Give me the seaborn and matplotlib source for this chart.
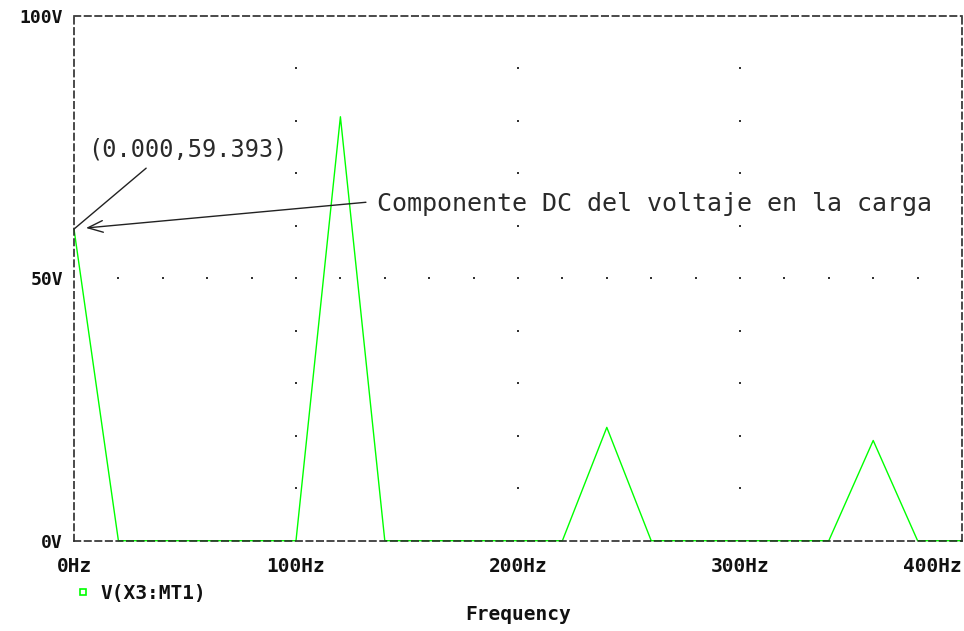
import matplotlib
matplotlib.use("Agg")
import matplotlib.pyplot as plt
from matplotlib.lines import Line2D
import numpy as np
import pandas as pd
import seaborn as sns

# FFT of the load voltage, 20 Hz resolution
freq_hz = [0, 20, 40, 60, 80, 100, 120, 140, 160, 180, 200, 220, 240, 260,
           280, 300, 320, 340, 360, 380, 400]
volts = [59.393, 0, 0, 0, 0, 0, 80.8, 0, 0, 0, 0, 0, 21.6, 0,
         0, 0, 0, 0, 19.1, 0, 0]
x_ticks = [0, 100, 200, 300, 400]
x_tick_labels = ["0Hz", "100Hz", "200Hz", "300Hz", "400Hz"]
y_ticks = [0, 50, 100]
y_tick_labels = ["0V", "50V", "100V"]
trace_name = "V(X3:MT1)"
dc_label = "(0.000,59.393)"
dc_note = "Componente DC del voltaje en la carga"

sns.set_theme(style="white")
plt.rcParams["lines.scale_dashes"] = False
plt.rcParams["font.family"] = ["DejaVu Sans Mono", "DejaVu Sans"]

W, H = 964, 631
fig = plt.figure(figsize=(W / 100, H / 100), dpi=100)
ax = fig.add_axes([74 / W, 1 - 540.7 / H, 888 / W, (540.7 - 16) / H])

df = pd.DataFrame({"Frequency": freq_hz, "Voltage": volts})
sns.lineplot(data=df, x="Frequency", y="Voltage", ax=ax, color="#00ff00",
             linewidth=1.0, clip_on=False, zorder=2)

ax.set_xlim(0, 400)
ax.set_ylim(0, 100)

# dashed frame
for sp in ax.spines.values():
    sp.set_visible(True)
    sp.set_linestyle((0, (4.6, 3.0)))
    sp.set_color("#2b2b2b")
    sp.set_linewidth(1.2)
    sp.set_zorder(3)

# sparse dotted grid
for gx in [100, 200, 300]:
    ys = np.arange(10, 100, 10)
    ax.plot([gx] * len(ys), ys, ls="none", marker="s", ms=1.6,
            color="#333333", mew=0)
gxs = np.arange(20, 400, 20)
ax.plot(gxs, [50] * len(gxs), ls="none", marker="s", ms=1.6,
        color="#333333", mew=0)

x_font = dict(family="DejaVu Sans Mono", weight="bold", size=14)
y_font = dict(family="DejaVu Sans Mono", weight="bold", size=13)
ax.set_xticks(x_ticks)
ax.set_xticklabels(x_tick_labels, fontdict=x_font)
ax.get_xticklabels()[-1].set_horizontalalignment("right")
ax.set_yticks(y_ticks)
ax.set_yticklabels(y_tick_labels, fontdict=y_font)
ax.tick_params(axis="x", direction="out", length=5, width=1.1,
               color="#222222", pad=7, labelcolor="#111111")
ax.tick_params(axis="y", direction="inout", length=10, width=1.1,
               color="#222222", pad=3, labelcolor="#111111")
ax.set_xlabel("")
ax.set_ylabel("")

fig.text(518 / W, 1 - 615 / H, "Frequency", ha="center", va="center",
         family="DejaVu Sans Mono", weight="bold", size=14, color="#111111")

handle = Line2D([], [], ls="none", marker="s", mfc="none", mec="#00ff00",
                mew=1.2, ms=5)
fig.legend([handle], [trace_name], loc="center left",
           bbox_to_anchor=(56 / W, 1 - 593 / H), frameon=False,
           handlelength=1.0, handletextpad=0.4,
           prop=dict(family="DejaVu Sans Mono", weight="bold", size=14),
           labelcolor="#111111")

text_color = "#2a2a2a"
# value label and its leader line to the DC point
ax.text(6.3, 74.5, dc_label, ha="left", va="center",
        family="DejaVu Sans Mono", size=17, color=text_color)
ax.annotate("", xy=(0, volts[0]), xytext=(32.5, 71.0),
            arrowprops=dict(arrowstyle="-", color="#222222", lw=1.0,
                            shrinkA=0, shrinkB=0))
# note with an arrow pointing at the DC point
ax.text(136.5, 64.2, dc_note, ha="left", va="center",
        family="DejaVu Sans Mono", size=18, color=text_color)
ax.annotate("", xy=(5.4, 59.6), xytext=(131.5, 64.5),
            arrowprops=dict(arrowstyle="->,head_length=0.9,head_width=0.35",
                            color="#222222", lw=1.0, shrinkA=0, shrinkB=0))

fig.savefig("out.png", dpi=100)
